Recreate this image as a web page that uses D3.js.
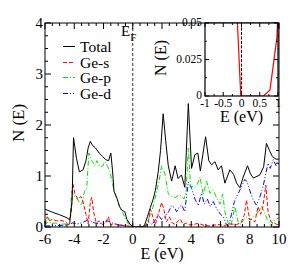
<!DOCTYPE html>
<html>
<head>
<meta charset="utf-8">
<script src="https://cdn.jsdelivr.net/npm/d3@7"></script>
<style>
  html, body { margin: 0; padding: 0; background: #fff; }
</style>
</head>
<body>
<svg id="chart" width="299" height="277"></svg>
<script>
// dati: energia (eV) e densita' degli stati
const totalE = [-6, -5.5, -5, -4.5, -4.3, -4.15, -4.05, -3.85, -3.65, -3.4, -3.2, -3.05, -2.9, -2.75, -2.55, -2.3, -2.05, -1.85, -1.65, -1.5, -1.38, -1.28, -1.1, -0.9, -0.75, -0.55, -0.4, -0.2, 0, 0.4, 0.6, 0.8, 1.0, 1.2, 1.4, 1.55, 1.75, 1.9, 2.08, 2.25, 2.43, 2.66, 2.9, 3.1, 3.33, 3.56, 3.8, 4.02, 4.25, 4.45, 4.62, 4.98, 5.2, 5.39, 5.62, 5.84, 6.07, 6.3, 6.64, 6.9, 7.1, 7.33, 7.55, 7.85, 8.05, 8.25, 8.69, 8.95, 9.14, 9.35, 9.55, 9.8, 10]
const totalN = [0.35, 0.29, 0.24, 0.18, 0.14, 0.5, 1.75, 1.35, 1.08, 1.12, 1.3, 1.55, 1.68, 1.6, 1.55, 1.45, 1.38, 1.32, 1.3, 1.45, 1.1, 0.7, 0.58, 0.4, 0.33, 0.3, 0.15, 0.06, 0, 0, 0, 0.03, 0.2, 0.38, 0.55, 0.72, 1.1, 1.5, 2.22, 1.7, 1.2, 0.9, 1.2, 0.95, 1.02, 0.78, 2.42, 1.15, 1.42, 1.45, 1.1, 1.77, 1.3, 1.22, 1.28, 1.12, 1.2, 0.86, 1.12, 1.03, 0.86, 0.77, 0.98, 1.2, 1.04, 0.96, 1.02, 1.18, 1.64, 1.5, 1.38, 1.33, 1.33]

const geSE = [-6, -5.85, -5.7, -5.5, -5.2, -4.9, -4.6, -4.35, -4.2, -4.1, -3.95, -3.75, -3.55, -3.4, -3.2, -3.05, -2.9, -2.8, -2.68, -2.5, -2.3, -2.1, -1.85, -1.67, -1.5, -1.2, -0.9, -0.6, -0.3, 0, 0.6, 0.9, 1.06, 1.2, 1.3, 1.45, 1.55, 1.75, 1.97, 2.1, 2.3, 2.5, 2.7, 2.9, 3.1, 3.25, 3.45, 3.65, 3.85, 4.1, 4.5, 4.9, 5.3, 5.8, 6.3, 6.6, 7.1, 7.4, 7.62, 7.78, 7.9, 8.0, 8.15, 8.35, 8.57, 8.75, 8.9, 9.1, 9.25, 9.45, 9.65, 9.85, 10]
const geSN = [0.05, 0.2, 0.12, 0.15, 0.12, 0.13, 0.1, 0.03, 0.3, 0.86, 0.65, 0.55, 0.6, 0.5, 0.25, 0.06, 0.5, 0.58, 0.3, 0.08, 0.12, 0.05, 0.08, 0.2, 0.05, 0.06, 0.04, 0.03, 0.02, 0, 0, 0.02, 0.07, 0.35, 0.27, 0.12, 0.05, 0.25, 0.48, 0.38, 0.1, 0.2, 0.08, 0.05, 0.12, 0.15, 0.05, 0.08, 0.04, 0.05, 0.07, 0.03, 0.02, 0.05, 0.03, 0.06, 0.05, 0.08, 0.23, 0.53, 0.3, 0.14, 0.15, 0.1, 0.4, 0.25, 0.4, 0.82, 0.3, 0.1, 0.08, 0.05, 0.05]

const gePE = [-6, -5.88, -5.75, -5.6, -5.3, -5, -4.6, -4.3, -4.18, -4.0, -3.8, -3.5, -3.3, -3.15, -3.0, -2.8, -2.6, -2.45, -2.25, -2.05, -1.9, -1.7, -1.5, -1.28, -1.1, -0.9, -0.7, -0.5, -0.3, 0, 0.6, 0.85, 1.0, 1.2, 1.4, 1.6, 1.8, 1.97, 2.2, 2.43, 2.66, 2.9, 3.2, 3.5, 3.65, 3.8, 3.95, 4.2, 4.36, 4.6, 4.82, 5.05, 5.28, 5.5, 5.7, 5.96, 6.15, 6.3, 6.53, 6.7, 6.98, 7.2, 7.4, 7.6, 7.8, 8.0, 8.2, 8.46, 8.8, 9.0, 9.2, 9.45, 9.7, 10]
const gePN = [0.15, 0.05, 0.18, 0.06, 0.08, 0.05, 0.06, 0.05, 0.7, 0.6, 0.55, 0.42, 0.7, 0.75, 1.45, 1.3, 1.2, 1.3, 1.18, 1.2, 1.28, 1.18, 1.0, 0.72, 0.55, 0.4, 0.28, 0.18, 0.06, 0, 0, 0.02, 0.1, 0.25, 0.4, 0.65, 0.9, 1.2, 1.05, 0.65, 0.6, 0.58, 0.63, 0.55, 0.7, 1.55, 0.8, 0.78, 0.8, 0.98, 0.63, 0.9, 0.66, 0.72, 0.6, 0.45, 0.65, 0.3, 0.08, 0, 0.4, 0.1, 0.05, 0.15, 0.2, 0.14, 0.2, 0.25, 0.4, 0.3, 0.14, 0.03, 0.14, 0.18]

const geDE = [-6, -5, -4.5, -4.1, -3.8, -3.5, -3.2, -3.0, -2.8, -2.6, -2.3, -2.0, -1.7, -1.4, -1.0, -0.6, -0.3, 0, 0.6, 0.9, 1.1, 1.3, 1.5, 1.74, 1.95, 2.2, 2.45, 2.66, 2.85, 3.0, 3.2, 3.35, 3.55, 3.8, 4.02, 4.25, 4.48, 4.7, 4.9, 5.1, 5.3, 5.5, 5.75, 6.0, 6.2, 6.4, 6.55, 6.75, 6.95, 7.2, 7.45, 7.65, 7.8, 8.0, 8.2, 8.45, 8.65, 8.9, 9.1, 9.25, 9.4, 9.6, 9.8, 10]
const geDN = [0.02, 0.03, 0.04, 0.08, 0.06, 0.08, 0.12, 0.17, 0.1, 0.08, 0.06, 0.1, 0.12, 0.08, 0.04, 0.03, 0.01, 0, 0, 0.02, 0.1, 0.05, 0.12, 0.25, 0.15, 0.2, 0.3, 0.42, 0.38, 0.3, 0.4, 0.43, 0.3, 0.88, 0.76, 0.55, 0.42, 0.66, 0.45, 0.55, 0.4, 0.5, 0.35, 0.25, 0.2, 0.05, 0.02, 0.25, 0.5, 0.65, 0.8, 0.93, 0.9, 0.72, 0.55, 0.43, 0.55, 0.78, 1.05, 1.25, 1.15, 1.32, 1.2, 1.25]

// inset: zoom attorno al livello di Fermi
const insetE = [-0.13, -0.02, 0.6, 0.78, 0.97, 1.0]
const insetN = [0.06, 0, 0, 0.004, 0.04, 0.06]

const xTicks = [-6, -4, -2, 0, 2, 4, 6, 8, 10]
const yTicks = [0, 1, 2, 3, 4]
const insetXTicks = [-1, -0.5, 0, 0.5, 1]
const insetYTicks = [0, 0.025, 0.05]

const seriesNames = ['Total', 'Ge-s', 'Ge-p', 'Ge-d']
const seriesColors = ['#000000', '#ff0000', '#00e000', '#0000ff']
const seriesDash = [null, '4,2', '5,2,1,2', '5,2,1,2,1,2']

const fontSerif = '"Liberation Serif"'

const svg = d3.select('#chart')

// area del grafico principale
const plot = { left: 45, right: 279, top: 23, bottom: 227 }
const inset = { left: 205, right: 278, top: 23, bottom: 96 }

const xScale = d3.scaleLinear().domain([-6, 10]).range([plot.left, plot.right])
const yScale = d3.scaleLinear().domain([0, 4]).range([plot.bottom, plot.top])

svg.append('defs').append('clipPath').attr('id', 'clipMain')
  .append('rect')
  .attr('x', plot.left).attr('y', plot.top)
  .attr('width', plot.right - plot.left).attr('height', plot.bottom - plot.top)

// tacche interne su tutti e quattro i lati
function drawTicks(g, xs, ys, xMajor, xMinor, yMajor, yMinor, box, majorLen, minorLen) {
  xMinor.forEach(v => {
    const px = xs(v)
    g.append('line').attr('x1', px).attr('x2', px).attr('y1', box.bottom).attr('y2', box.bottom - minorLen)
    g.append('line').attr('x1', px).attr('x2', px).attr('y1', box.top).attr('y2', box.top + minorLen)
  })
  xMajor.forEach(v => {
    const px = xs(v)
    g.append('line').attr('x1', px).attr('x2', px).attr('y1', box.bottom).attr('y2', box.bottom - majorLen)
    g.append('line').attr('x1', px).attr('x2', px).attr('y1', box.top).attr('y2', box.top + majorLen)
  })
  yMinor.forEach(v => {
    const py = ys(v)
    g.append('line').attr('y1', py).attr('y2', py).attr('x1', box.left).attr('x2', box.left + minorLen)
    g.append('line').attr('y1', py).attr('y2', py).attr('x1', box.right).attr('x2', box.right - minorLen)
  })
  yMajor.forEach(v => {
    const py = ys(v)
    g.append('line').attr('y1', py).attr('y2', py).attr('x1', box.left).attr('x2', box.left + majorLen)
    g.append('line').attr('y1', py).attr('y2', py).attr('x1', box.right).attr('x2', box.right - majorLen)
  })
  g.selectAll('line').attr('stroke', '#000').attr('stroke-width', 1)
}

// linea del livello di Fermi
svg.append('line')
  .attr('x1', xScale(0)).attr('x2', xScale(0))
  .attr('y1', plot.top).attr('y2', plot.bottom)
  .attr('stroke', '#000').attr('stroke-width', 0.8)
  .attr('stroke-dasharray', '3,2')

const line = d3.line().x(d => xScale(d[0])).y(d => yScale(d[1]))

const allSeries = [
  d3.zip(totalE, totalN),
  d3.zip(geSE, geSN),
  d3.zip(gePE, gePN),
  d3.zip(geDE, geDN)
]

const curves = svg.append('g').attr('clip-path', 'url(#clipMain)')
// disegna prima le proiezioni, poi il totale sopra
;[3, 2, 1, 0].forEach(i => {
  curves.append('path')
    .datum(allSeries[i])
    .attr('d', line)
    .attr('fill', 'none')
    .attr('stroke', seriesColors[i])
    .attr('stroke-width', 1)
    .attr('stroke-dasharray', seriesDash[i])
})

// cornice
svg.append('rect')
  .attr('x', plot.left).attr('y', plot.top)
  .attr('width', plot.right - plot.left).attr('height', plot.bottom - plot.top)
  .attr('fill', 'none').attr('stroke', '#000').attr('stroke-width', 1)

drawTicks(svg.append('g'), xScale, yScale,
  xTicks, d3.range(-6, 10.01, 0.5).filter(v => v % 2 !== 0),
  yTicks, d3.range(0, 4.01, 0.25).filter(v => v % 1 !== 0),
  plot, 6, 3)

// etichette delle tacche
svg.append('g').selectAll('text').data(xTicks).join('text')
  .attr('x', d => xScale(d))
  .attr('y', plot.bottom + 17)
  .attr('text-anchor', 'middle')
  .attr('font-size', 15)
  .text(d => d)

svg.append('g').selectAll('text').data(yTicks).join('text')
  .attr('x', plot.left - 2)
  .attr('y', d => yScale(d) + 5)
  .attr('text-anchor', 'end')
  .attr('font-size', 15)
  .text(d => d)

// titoli degli assi
svg.append('text')
  .attr('x', (plot.left + plot.right) / 2)
  .attr('y', 259)
  .attr('text-anchor', 'middle')
  .attr('font-size', 16)
  .text('E (eV)')

svg.append('text')
  .attr('transform', `translate(24, 123) rotate(-90)`)
  .attr('text-anchor', 'middle')
  .attr('font-size', 17)
  .text('N (E)')

// etichetta E_F
const ef = svg.append('text').attr('x', 121).attr('y', 36).attr('font-size', 15)
ef.append('tspan').text('E')
ef.append('tspan').attr('font-size', 11).attr('dy', 5).text('F')

// legenda
const legend = svg.append('g')
seriesNames.forEach((name, i) => {
  const y = Math.round(46 + i * 15.5) + 0.5
  legend.append('line')
    .attr('x1', 63).attr('x2', 75).attr('y1', y).attr('y2', y)
    .attr('stroke', seriesColors[i]).attr('stroke-width', 1)
    .attr('stroke-dasharray', seriesDash[i])
  legend.append('text')
    .attr('x', 80).attr('y', y + 5)
    .attr('font-size', 15.5)
    .text(name)
})

// ---- inset ----
const ix = d3.scaleLinear().domain([-1, 1]).range([inset.left, inset.right])
const iy = d3.scaleLinear().domain([0, 0.05]).range([inset.bottom, inset.top])

svg.append('rect')
  .attr('x', inset.left).attr('y', inset.top)
  .attr('width', inset.right - inset.left).attr('height', inset.bottom - inset.top)
  .attr('fill', '#fff')

svg.append('defs').append('clipPath').attr('id', 'clipInset')
  .append('rect')
  .attr('x', inset.left).attr('y', inset.top)
  .attr('width', inset.right - inset.left).attr('height', inset.bottom - inset.top)

svg.append('line')
  .attr('x1', ix(0)).attr('x2', ix(0))
  .attr('y1', inset.top).attr('y2', inset.bottom)
  .attr('stroke', '#000').attr('stroke-width', 1)
  .attr('stroke-dasharray', '3,1.5')

svg.append('g').attr('clip-path', 'url(#clipInset)')
  .append('path')
  .datum(d3.zip(insetE, insetN))
  .attr('d', d3.line().x(d => ix(d[0])).y(d => iy(d[1])))
  .attr('fill', 'none')
  .attr('stroke', '#ff0000')
  .attr('stroke-width', 1.2)

svg.append('rect')
  .attr('x', inset.left).attr('y', inset.top)
  .attr('width', inset.right - inset.left).attr('height', inset.bottom - inset.top)
  .attr('fill', 'none').attr('stroke', '#000').attr('stroke-width', 1.2)

drawTicks(svg.append('g'), ix, iy,
  insetXTicks, [-0.75, -0.25, 0.25, 0.75],
  insetYTicks, [0.0125, 0.0375],
  inset, 4, 2)

svg.append('g').selectAll('text').data(insetXTicks).join('text')
  .attr('x', d => ix(d))
  .attr('y', inset.bottom + 11)
  .attr('text-anchor', 'middle')
  .attr('font-size', 11.5)
  .text(d => d)

svg.append('g').selectAll('text').data(insetYTicks).join('text')
  .attr('x', inset.left - 3)
  .attr('y', d => iy(d) + 3)
  .attr('text-anchor', 'end')
  .attr('font-size', 11.5)
  .text(d => d)

svg.append('text')
  .attr('x', (inset.left + inset.right) / 2)
  .attr('y', 122)
  .attr('text-anchor', 'middle')
  .attr('font-size', 16)
  .text('E (eV)')

svg.append('text')
  .attr('transform', `translate(166, 58) rotate(-90)`)
  .attr('text-anchor', 'middle')
  .attr('font-size', 16)
  .text('N (E)')

// font con grazie su tutti i testi
svg.selectAll('text').style('font-family', fontSerif).attr('fill', '#000')
</script>
</body>
</html>
